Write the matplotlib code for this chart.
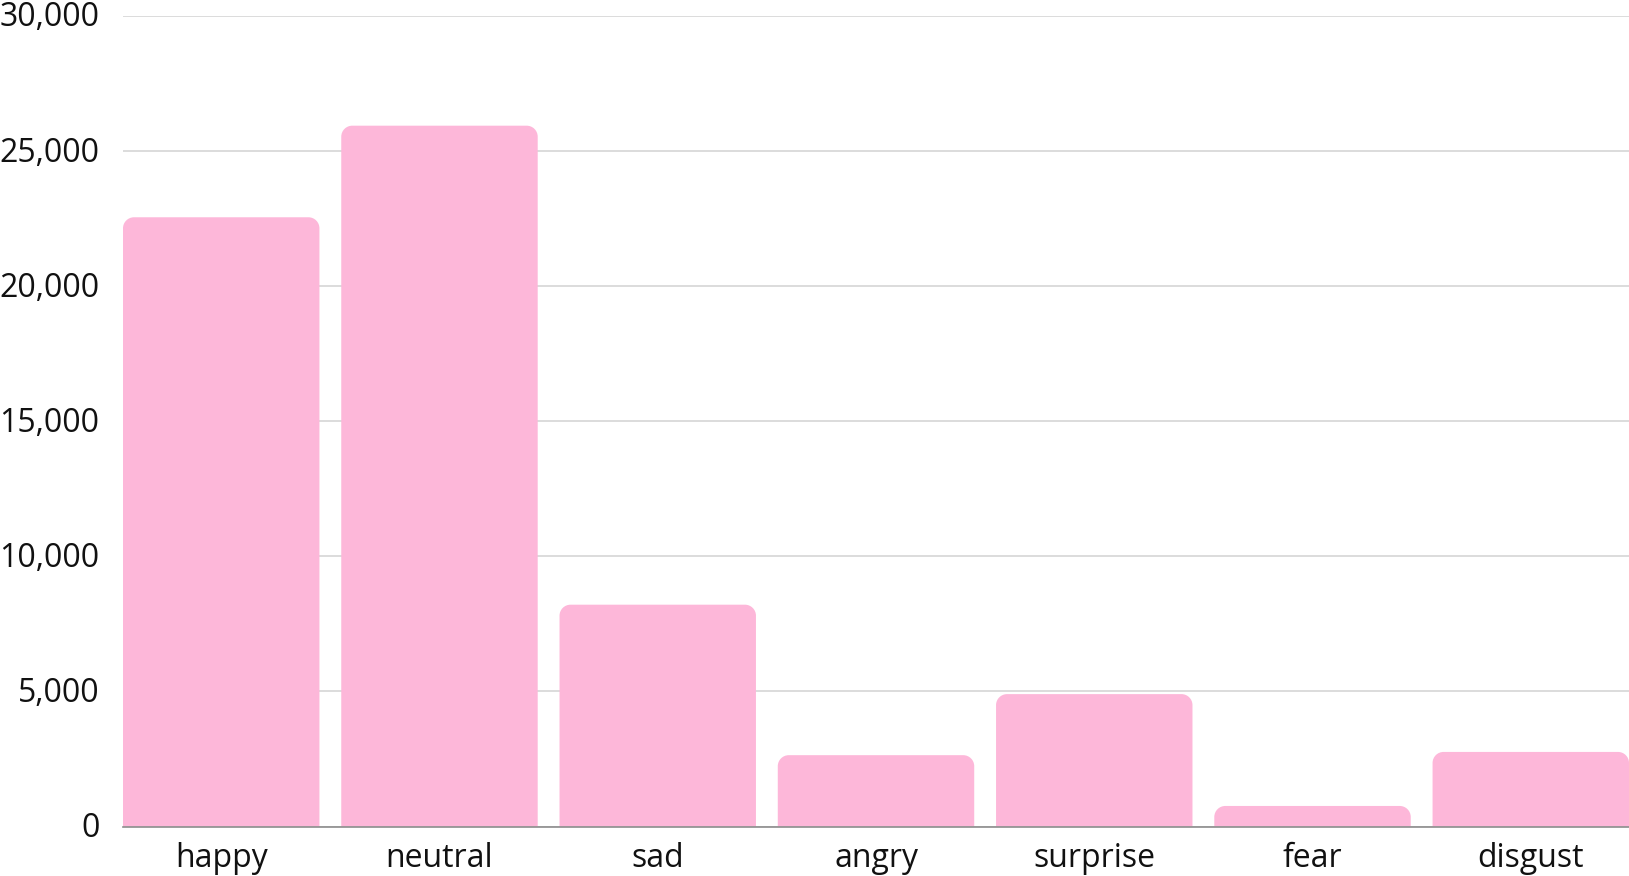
import numpy as np
import matplotlib
matplotlib.use("Agg")
import matplotlib.pyplot as plt
import matplotlib.transforms as mtransforms
from matplotlib.path import Path
from matplotlib.patches import PathPatch
from matplotlib.ticker import FuncFormatter

# --- data
emotions = ["happy", "neutral", "sad", "angry", "surprise", "fear", "disgust"]
counts   = [22550, 25940, 8210, 2640, 4900, 760, 2760]
y_ticks  = [0, 5000, 10000, 15000, 20000, 25000, 30000]

bar_color  = "#fdb7d9"
grid_color = "#d6d6d6"
bar_width  = 0.9
corner_px  = 11

plt.rcParams["font.family"] = ["Open Sans", "DejaVu Sans"]

fig = plt.figure(figsize=(16.29, 8.76), dpi=100)
ax  = fig.add_axes([123 / 1629, 1 - 826.5 / 876, 1 - 123 / 1629, (826.5 - 16) / 876])

x = np.arange(len(emotions))
ax.set_xlim(-bar_width / 2, len(emotions) - 1 + bar_width / 2)
ax.set_ylim(0, 30000)

# plain bars first, then swap them for rounded-top shapes
bars = ax.bar(x, counts, width=bar_width, color=bar_color, zorder=2)

# pixel radius -> data units
bbox = ax.get_window_extent()
rx = corner_px * (ax.get_xlim()[1] - ax.get_xlim()[0]) / bbox.width
ry = corner_px * (ax.get_ylim()[1] - ax.get_ylim()[0]) / bbox.height
k = 0.5523

for b in bars:
    x0, y0 = b.get_x(), b.get_y()
    x1, y1 = x0 + b.get_width(), y0 + b.get_height()
    r_y = min(ry, b.get_height())
    verts = [(x0, y0), (x0, y1 - r_y),
             (x0, y1 - r_y + k * r_y), (x0 + rx - k * rx, y1), (x0 + rx, y1),
             (x1 - rx, y1),
             (x1 - rx + k * rx, y1), (x1, y1 - r_y + k * r_y), (x1, y1 - r_y),
             (x1, y0), (x0, y0)]
    codes = [Path.MOVETO, Path.LINETO,
             Path.CURVE4, Path.CURVE4, Path.CURVE4,
             Path.LINETO,
             Path.CURVE4, Path.CURVE4, Path.CURVE4,
             Path.LINETO, Path.CLOSEPOLY]
    ax.add_patch(PathPatch(Path(verts, codes), facecolor=bar_color,
                           edgecolor="none", zorder=2))
    b.set_visible(False)

# axes styling
ax.set_yticks(y_ticks)
ax.yaxis.set_major_formatter(FuncFormatter(lambda v, p: f"{int(v):,}"))
ax.set_xticks(x)
ax.set_xticklabels(emotions)
ax.tick_params(axis="both", length=0, labelsize=23, colors="#111111")
ax.tick_params(axis="y", pad=17)
ax.tick_params(axis="x", pad=11)
ax.grid(axis="y", color=grid_color, linewidth=1.2, zorder=0)
ax.set_axisbelow(True)
for side in ["top", "right", "left"]:
    ax.spines[side].set_visible(False)
ax.spines["bottom"].set_color("#8c8c8c")
ax.spines["bottom"].set_linewidth(1.2)
ax.spines["bottom"].set_zorder(3)

# nudge the y labels up a touch
shift = mtransforms.ScaledTranslation(0, 2 / 100, fig.dpi_scale_trans)
for lbl in ax.get_yticklabels():
    lbl.set_transform(lbl.get_transform() + shift)

fig.savefig("out.png", dpi=100)
